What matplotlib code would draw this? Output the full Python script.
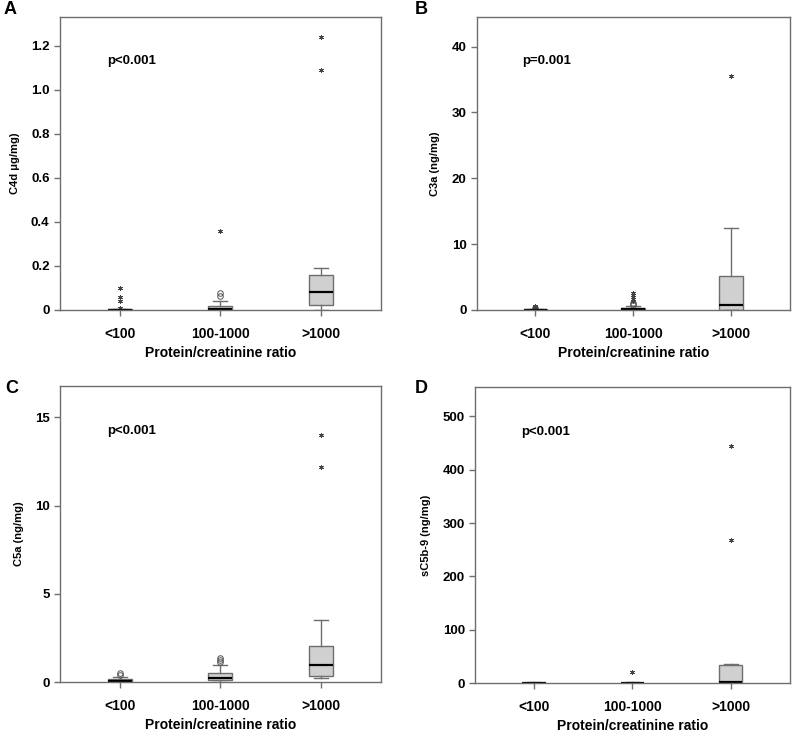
import matplotlib

matplotlib.use("Agg")
import matplotlib.pyplot as plt

plt.rcParams["font.family"] = ["Liberation Sans", "DejaVu Sans"]
plt.rcParams["font.weight"] = "bold"

groups = ["<100", "100-1000", ">1000"]

# (q1, median, q3, whisker low, whisker high) per group
c4d_boxes = [(0.0, 0.0, 0.002, 0.0, 0.004), (0.0, 0.002, 0.018, 0.0, 0.038), (0.02, 0.08, 0.16, 0.0, 0.19)]
c4d_circles = [[], [0.065, 0.075], []]
c4d_stars = [[0.008, 0.038, 0.058, 0.098], [0.36], [1.09, 1.24]]

c3a_boxes = [(0.0, 0.02, 0.08, 0.0, 0.15), (0.02, 0.1, 0.3, 0.0, 0.6), (0.05, 0.8, 5.1, 0.0, 12.4)]
c3a_circles = [[0.3], [0.8, 1.0], []]
c3a_stars = [[0.45, 0.6], [1.3, 1.6, 1.9, 2.2, 2.6], [35.6]]

c5a_boxes = [(0.0, 0.06, 0.17, 0.0, 0.3), (0.12, 0.27, 0.52, 0.0, 1.0), (0.35, 0.95, 2.05, 0.22, 3.55)]
c5a_circles = [[0.42, 0.52], [1.15, 1.25, 1.35], []]
c5a_stars = [[], [], [12.2, 14.0]]

sc5b9_boxes = [(0.0, 0.0, 0.5, 0.0, 1.0), (0.0, 0.1, 0.8, 0.0, 1.5), (0.0, 1.0, 33.0, 0.0, 36.0)]
sc5b9_circles = [[], [], []]
sc5b9_stars = [[], [20.0], [269.0, 444.0]]

panels = [
    ("A", "C4d \u03bcg/mg)", "p<0.001", c4d_boxes, c4d_circles, c4d_stars, 1.33, [0, 0.2, 0.4, 0.6, 0.8, 1.0, 1.2], ["0", "0.2", "0.4", "0.6", "0.8", "1.0", "1.2"]),
    ("B", "C3a (ng/mg)", "p=0.001", c3a_boxes, c3a_circles, c3a_stars, 44.5, [0, 10, 20, 30, 40], ["0", "10", "20", "30", "40"]),
    ("C", "C5a (ng/mg)", "p<0.001", c5a_boxes, c5a_circles, c5a_stars, 16.8, [0, 5, 10, 15], ["0", "5", "10", "15"]),
    ("D", "sC5b-9 (ng/mg)", "p<0.001", sc5b9_boxes, sc5b9_circles, sc5b9_stars, 555, [0, 100, 200, 300, 400, 500], ["0", "100", "200", "300", "400", "500"]),
]

axes_rects = [
    [0.075, 0.579, 0.401, 0.398],
    [0.596, 0.579, 0.391, 0.398],
    [0.075, 0.073, 0.401, 0.403],
    [0.594, 0.072, 0.393, 0.402],
]
letter_pos = [(0.004, 0.998), (0.519, 0.998), (0.006, 0.484), (0.518, 0.484)]

edge = "#6e6e6e"
fig = plt.figure(figsize=(8.0, 7.36), dpi=100)

for rect, lpos, (letter, ylabel, ptext, boxes, circles, stars, ymax, yticks, yticklabels) in zip(axes_rects, letter_pos, panels):
    ax = fig.add_axes(rect)
    stats = []
    for name, (q1, med, q3, lo, hi) in zip(groups, boxes):
        stats.append({"label": name, "q1": q1, "med": med, "q3": q3, "whislo": lo, "whishi": hi, "fliers": []})
    ax.bxp(
        stats,
        positions=[1, 2, 3],
        widths=0.24,
        capwidths=0.14,
        patch_artist=True,
        showfliers=False,
        boxprops=dict(facecolor="#d0d0d0", edgecolor=edge, linewidth=1.0),
        medianprops=dict(color="black", linewidth=1.6),
        whiskerprops=dict(color=edge, linewidth=1.0),
        capprops=dict(color=edge, linewidth=1.0),
    )
    for pos, vals in zip([1, 2, 3], circles):
        if vals:
            ax.plot([pos] * len(vals), vals, linestyle="none", marker="o", markersize=4,
                    markerfacecolor="none", markeredgecolor="#555555", markeredgewidth=0.7)
    for pos, vals in zip([1, 2, 3], stars):
        if vals:
            ax.plot([pos] * len(vals), vals, linestyle="none", marker=(6, 2, 0), markersize=3.5,
                    markeredgecolor="#444444", markeredgewidth=0.6)

    ax.set_xlim(0.4, 3.6)
    ax.set_ylim(0, ymax)
    ax.set_yticks(yticks)
    ax.set_yticklabels(yticklabels, fontsize=9.5, fontweight="bold")
    ax.set_xticks([1, 2, 3])
    ax.set_xticklabels(groups, fontsize=10, fontweight="bold")
    ax.tick_params(axis="both", direction="out", length=4, width=1.0, color=edge)
    ax.tick_params(axis="x", pad=8)
    for spine in ax.spines.values():
        spine.set_color(edge)
        spine.set_linewidth(1.0)
    ax.set_xlabel("Protein/creatinine ratio", fontsize=10, fontweight="bold", labelpad=4)
    ax.set_ylabel(ylabel, fontsize=8, fontweight="bold", labelpad=8)
    ax.text(0.146, 0.848, ptext, transform=ax.transAxes, fontsize=9.5, fontweight="bold", va="center")
    fig.text(lpos[0], lpos[1], letter, fontsize=13, fontweight="bold", va="top", ha="left")

fig.savefig("out.png", dpi=100)
